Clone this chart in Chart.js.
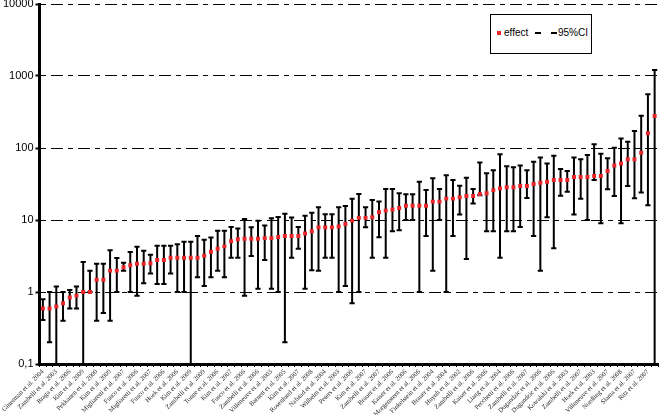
<!DOCTYPE html>
<html lang="en">
<head>
    <meta charset="UTF-8">
    <title>effect and 95%CI by study</title>
    <script src="https://cdn.jsdelivr.net/npm/chart.js"></script>
    <style>
        body { margin: 0; background: #fff; }
        .wrap { position: relative; width: 662px; height: 415px; }
        .legend {
            position: absolute; left: 490px; top: 14px; width: 100px; height: 38px;
            border: 1px solid #000; background: #fff;
            font: 10px "Liberation Sans", Arial, sans-serif; color: #000;
        }
        .legend span { position: absolute; top: 12px; line-height: 12px; }
        .legend .sq { top: 16px; left: 6px; width: 4px; height: 4px; background: #e8262a; }
        .legend .dash { top: 17px; height: 2px; width: 6px; background: #000; }
    </style>
</head>
<body>
    <div class="wrap">
        <canvas id="chart" width="662" height="415"></canvas>
        <div class="legend">
            <span class="sq"></span><span style="left:13px">effect</span>
            <span class="dash" style="left:44px"></span><span class="dash" style="left:60px"></span>
            <span style="left:67px">95%CI</span>
        </div>
    </div>

    <script>
        // one label for every second study
        const studies = [
            'Gitterman et al. 2004', 'Zambelli et al. 2003', 'Braga et al. 2006', 'Kim et al. 2009',
            'Pekkanen et al. 2000', 'Kim et al. 2009', 'Migliaretti et al. 2007', 'Fusco et al. 2006',
            'Migliaretti et al. 2007', 'Fusco et al. 2006', 'Hoek et al. 2006', 'Kim et al. 2009',
            'Zambelli et al. 2009', 'Tonne et al. 2006', 'Kim et al. 2007', 'Fusco et al. 2006',
            'Zambelli et al. 2006', 'Villeneuve et al. 2003', 'Barnett et al. 2005', 'Kim et al. 2007',
            'Rosenlund et al. 2008', 'Nafstad et al. 2004', 'Wilhelm et al. 2003', 'Peters et al. 2000',
            'Kim et al. 2007', 'Zambelli et al. 2007', 'Brauer et al. 2006', 'Kaiser et al. 2006',
            'Morgenstern et al. 2006', 'Finkelstein et al. 2004', 'Brauer et al. 2004', 'Huynh et al. 2002',
            'Zambelli et al. 2006', 'Kaiser et al. 2006', 'Liang et al. 2004', 'Pecchetti et al. 2006',
            'Zambelli et al. 2007', 'Dugandzic et al. 2006', 'Dugandzic et al. 2006', 'Kowalski et al. 2003',
            'Zambelli et al. 2007', 'Hoek et al. 2003', 'Villeneuve et al. 2007', 'Nordling et al. 2008',
            'Slama et al. 2007', 'Ritz et al. 2007'
        ];

        const effect = [
            0.59, 0.59, 0.63, 0.70, 0.84, 0.89, 1.0, 1.0, 1.48, 1.48,
            1.98, 1.98, 2.2, 2.35, 2.47, 2.47, 2.5, 2.78, 2.78, 3.0,
            3.0, 3.0, 3.0, 3.0, 3.19, 3.63, 4.0, 4.3, 5.06, 5.4,
            5.5, 5.5, 5.5, 5.6, 5.6, 5.8, 6.0, 6.0, 6.0, 6.5,
            7.0, 7.9, 7.9, 7.9, 8.1, 8.8, 9.8, 10.7, 10.7, 10.9,
            12.8, 13.5, 14, 14.7, 15.8, 15.8, 15.8, 15.8, 18, 18,
            19.8, 19.8, 20.7, 21.5, 21.5, 23, 23.5, 26, 27.5, 28.5,
            28.5, 29.7, 29.7, 31.6, 33, 34, 36, 36, 36, 39.5,
            39.5, 39.5, 40.8, 40.8, 48, 57, 61, 70, 70, 86,
            160, 278
        ];
        const ciLow = [
            0.41, 0.2, 0.1, 0.40, 0.59, 0.59, 0.1, 1.0, 0.40, 0.51,
            0.40, 1.0, 1.98, 1.0, 0.89, 1.32, 1.8, 1.29, 1.29, 1.8,
            1.0, 1.0, 0.1, 1.6, 1.21, 1.6, 1.98, 1.6, 3.0, 3.0,
            0.89, 3.16, 1.11, 2.78, 1.11, 1.0, 0.2, 3.0, 4.0, 1.11,
            2.0, 1.98, 3.0, 3.0, 1.0, 1.21, 0.70, 1.0, 7.9, 3.0,
            5.75, 3.0, 7.0, 7.2, 10, 10, 1.0, 6.0, 1.98, 10,
            1.0, 6.0, 11.9, 2.87, 17, 22, 7.0, 7.0, 3.0, 7.0,
            7.0, 8.0, 20.2, 6.0, 1.98, 10.9, 4.04, 21.8, 24.7, 11.9,
            19.8, 10, 36, 9.0, 26.7, 21.5, 9.0, 29.7, 20, 24,
            16, 0.1
        ];
        const ciHigh = [
            0.79, 1.0, 1.19, 1.0, 1.07, 1.19, 2.6, 1.98, 2.47, 2.47,
            3.8, 2.96, 2.55, 3.6, 4.26, 3.75, 3.3, 4.4, 4.4, 4.4,
            4.6, 5.0, 5.0, 6.0, 5.3, 5.7, 7.1, 7.1, 8.0, 7.6,
            10.3, 7.9, 9.8, 8.4, 10.6, 11, 12.2, 10.8, 8.0, 11.5,
            12.6, 15, 12, 12, 15, 15.6, 19.8, 23, 15, 19,
            18, 27, 27, 23.5, 22.7, 22.7, 34, 26, 38, 27,
            42, 36, 30, 38.7, 27, 63, 44.5, 49, 82, 56,
            54, 57, 49, 64.5, 74, 61, 78, 51, 48, 74,
            70, 80, 113, 83, 72, 101, 136, 122, 172, 281,
            560, 1210
        ];

        const yTicks = [0.1, 1, 10, 100, 1000, 10000];
        const yTickLabels = ['0,1', '1', '10', '100', '1000', '10000'];

        const labels = effect.map((v, i) => i % 2 === 0 ? studies[i / 2] : '');

        // whiskers for the confidence intervals, drawn under the points
        const errorBars = {
            id: 'errorBars',
            beforeDatasetsDraw(chart) {
                const ctx = chart.ctx;
                const xs = chart.scales.x, ys = chart.scales.y;
                ctx.save();
                ctx.strokeStyle = '#000';
                ctx.lineWidth = 2;
                for (let i = 0; i < effect.length; i++) {
                    const x = xs.getPixelForValue(i);
                    const y1 = ys.getPixelForValue(ciLow[i]);
                    const y2 = ys.getPixelForValue(ciHigh[i]);
                    ctx.beginPath();
                    ctx.moveTo(x, y1); ctx.lineTo(x, y2);
                    ctx.moveTo(x - 2.6, y1); ctx.lineTo(x + 2.6, y1);
                    ctx.moveTo(x - 2.6, y2); ctx.lineTo(x + 2.6, y2);
                    ctx.stroke();
                }
                ctx.restore();
            }
        };

        new Chart(document.getElementById('chart'), {
            type: 'line',
            data: {
                labels: labels,
                datasets: [{
                    label: 'effect',
                    data: effect,
                    showLine: false,
                    pointStyle: 'rect',
                    pointRadius: 2.8,
                    pointBackgroundColor: '#e8262a',
                    pointBorderWidth: 0
                }]
            },
            options: {
                responsive: false,
                animation: false,
                layout: { padding: { top: 4, right: 3, left: 0, bottom: 0 } },
                plugins: { legend: { display: false }, tooltip: { enabled: false } },
                scales: {
                    x: {
                        offset: true,
                        border: { color: '#000', width: 3 },
                        grid: { drawOnChartArea: false, drawTicks: true, tickLength: 3, color: '#000', offset: true },
                        ticks: {
                            autoSkip: false, minRotation: 45, maxRotation: 45, padding: 1,
                            color: '#222', font: { family: 'Liberation Serif', size: 6.6 }
                        },
                        afterFit(scale) { scale.height = 51; scale.paddingLeft = 0; scale.paddingRight = 0; }
                    },
                    y: {
                        type: 'logarithmic',
                        min: 0.1,
                        max: 10000,
                        border: { color: '#000', width: 3, dash: [5, 5, 12, 5] },
                        grid: { color: '#000', lineWidth: 1, tickLength: 4, tickColor: '#000', tickWidth: 2 },
                        ticks: {
                            padding: 2, color: '#000',
                            font: { family: 'Liberation Sans', size: 11 },
                            callback: (v) => { const k = yTicks.indexOf(v); return k >= 0 ? yTickLabels[k] : ''; }
                        },
                        afterBuildTicks(scale) { scale.ticks = yTicks.map(v => ({ value: v })); },
                        afterFit(scale) { scale.width = 39.5; scale.paddingTop = 0; scale.paddingBottom = 0; }
                    }
                }
            },
            plugins: [errorBars]
        });
    </script>
</body>
</html>
